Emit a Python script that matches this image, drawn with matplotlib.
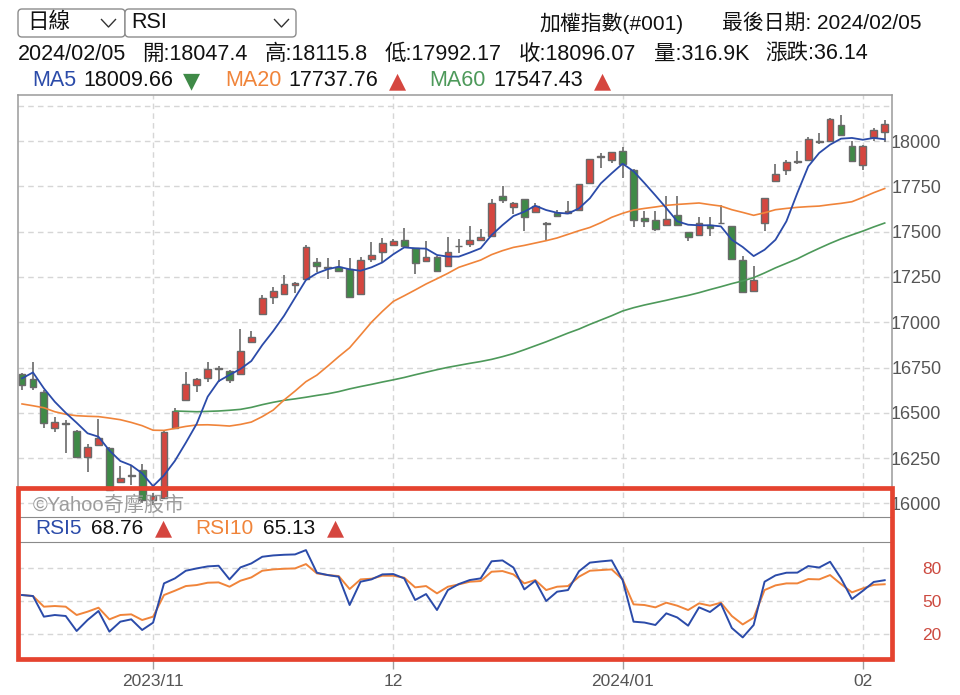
import matplotlib
matplotlib.use("Agg")
import numpy as np
import matplotlib.pyplot as plt
from matplotlib.patches import Rectangle, FancyBboxPatch
from matplotlib.lines import Line2D
from matplotlib.transforms import IdentityTransform

W, H = 960, 695
FONT = ["Liberation Sans", "Noto Sans CJK TC", "DejaVu Sans"]
plt.rcParams["font.family"] = FONT

# ---- data (TAIEX daily, 2023/10/16 .. 2024/02/05) ----
last_date = "2024/02/05"
volume_last = "316.9K"

open_ = [16712, 16686, 16613, 16414, 16437, 16400, 16258, 16322, 16304, 16117,
         16150, 16183, 16017, 16030, 16416, 16571, 16653, 16690, 16740, 16731,
         16712, 16889, 17045, 17137, 17156, 17205, 17238, 17334, 17298, 17306,
         17292, 17156, 17349, 17389, 17426, 17454, 17408, 17340, 17362, 17312,
         17418, 17431, 17454, 17477, 17696, 17638, 17678, 17610, 17540, 17601,
         17601, 17619, 17766, 17912, 17895, 17945, 17842, 17575, 17566, 17535,
         17593, 17498, 17479, 17538, 17545, 17529, 17345, 17174, 17547, 17777,
         17842, 17884, 17897, 17995, 18002, 18086, 17974, 17869, 18022, 18047.4]
high = [16722, 16782, 16624, 16479, 16460, 16405, 16326, 16465, 16310, 16207,
        16210, 16220, 16060, 16400, 16528, 16724, 16690, 16782, 16758, 16735,
        16962, 16951, 17150, 17196, 17260, 17224, 17426, 17353, 17353, 17343,
        17353, 17362, 17444, 17463, 17459, 17522, 17411, 17448, 17365, 17472,
        17457, 17531, 17512, 17678, 17752, 17662, 17682, 17660, 17555, 17619,
        17669, 17763, 17901, 17936, 17940, 17965, 17845, 17612, 17612, 17695,
        17695, 17500, 17579, 17579, 17645, 17532, 17363, 17308, 17688, 17873,
        17897, 17947, 18020, 18044, 18126, 18145, 18002, 17978, 18072, 18115.8]
low = [16625, 16626, 16414, 16392, 16280, 16250, 16172, 16318, 16070, 16115,
       16104, 16000, 15990, 16025, 16410, 16565, 16617, 16672, 16672, 16663,
       16708, 16885, 17040, 17100, 17152, 17159, 17235, 17279, 17238, 17275,
       17135, 17152, 17330, 17334, 17420, 17415, 17264, 17338, 17282, 17310,
       17380, 17413, 17452, 17475, 17656, 17597, 17505, 17608, 17454, 17582,
       17599, 17617, 17764, 17849, 17877, 17794, 17525, 17525, 17505, 17532,
       17529, 17450, 17476, 17477, 17543, 17347, 17160, 17170, 17505, 17773,
       17814, 17875, 17893, 17983, 17998, 18030, 17884, 17838, 18002, 17992.17]
close = [16655, 16644, 16442, 16451, 16442, 16254, 16313, 16359, 16074, 16140,
         16156, 16017, 16040, 16395, 16510, 16657, 16685, 16742, 16749, 16681,
         16843, 16916, 17132, 17174, 17211, 17214, 17417, 17312, 17303, 17284,
         17137, 17343, 17371, 17435, 17448, 17420, 17328, 17362, 17284, 17389,
         17422, 17454, 17472, 17656, 17674, 17660, 17582, 17643, 17545, 17586,
         17614, 17761, 17899, 17920, 17937, 17871, 17566, 17557, 17516, 17571,
         17535, 17470, 17547, 17520, 17549, 17349, 17165, 17231, 17685, 17818,
         17882, 17890, 18013, 18000, 18123, 18035, 17888, 17974, 18059.93, 18096.07]

ma5 = [16690, 16723, 16635, 16561, 16500, 16445, 16387, 16368, 16292, 16234,
       16210, 16166, 16095, 16155, 16235, 16335, 16440, 16589, 16675, 16709,
       16742, 16786, 16874, 16951, 17036, 17135, 17233, 17270, 17293, 17306,
       17292, 17284, 17303, 17330, 17375, 17413, 17408, 17406, 17371, 17362,
       17362, 17384, 17408, 17481, 17536, 17586, 17610, 17643, 17619, 17604,
       17600, 17628, 17684, 17766, 17822, 17875, 17833, 17768, 17700, 17630,
       17557, 17538, 17535, 17535, 17529, 17455, 17415, 17365, 17400, 17455,
       17557, 17713, 17860, 17934, 17980, 18013, 18017, 18007, 18017, 18009.66]
ma20 = [16549, 16539, 16528, 16506, 16492, 16484, 16481, 16479, 16471, 16462,
        16447, 16429, 16404, 16403, 16414, 16425, 16433, 16434, 16431, 16427,
        16436, 16449, 16479, 16515, 16571, 16620, 16672, 16708, 16758, 16810,
        16859, 16929, 17000, 17060, 17115, 17146, 17178, 17211, 17240, 17270,
        17303, 17323, 17343, 17373, 17395, 17413, 17424, 17437, 17450, 17465,
        17485, 17505, 17523, 17549, 17579, 17601, 17619, 17628, 17636, 17645,
        17650, 17654, 17658, 17649, 17641, 17621, 17606, 17590, 17604, 17621,
        17628, 17634, 17638, 17641, 17649, 17656, 17665, 17689, 17715, 17737.76]
# MA60 only starts once 60 sessions are available
ma60 = [np.nan] * 14 + [
        16510, 16508, 16506, 16508, 16510, 16514,
        16519, 16530, 16545, 16558, 16569, 16577, 16586, 16596, 16605, 16617,
        16632, 16645, 16657, 16670, 16682, 16695, 16710, 16724, 16738, 16751,
        16762, 16773, 16783, 16795, 16810, 16827, 16848, 16870, 16892, 16916,
        16940, 16962, 16988, 17012, 17036, 17062, 17080, 17095, 17108, 17121,
        17135, 17148, 17163, 17180, 17196, 17213, 17228, 17246, 17272, 17300,
        17325, 17350, 17380, 17408, 17435, 17460, 17482, 17503, 17526, 17547.43]

rsi5 = [55.4, 54.5, 35.9, 37.4, 36.5, 23.0, 32.9, 41.0, 22.4, 31.4,
        33.5, 23.9, 30.5, 65.9, 70.4, 77.3, 79.4, 81.2, 81.8, 69.5,
        80.3, 83.9, 89.9, 91.1, 91.7, 92.0, 95.9, 75.5, 73.4, 71.9,
        46.4, 67.4, 69.5, 74.0, 74.3, 70.4, 50.9, 56.3, 41.9, 59.9,
        65.3, 68.9, 70.4, 85.8, 86.6, 80.2, 60.5, 68.2, 50.0, 58.4,
        59.9, 76.8, 84.6, 85.7, 86.6, 68.9, 31.4, 30.6, 28.4, 38.9,
        35.2, 27.8, 44.3, 40.1, 47.6, 25.7, 17.2, 28.4, 67.4, 73.1,
        75.5, 75.6, 81.5, 80.2, 85.4, 70.4, 51.8, 59.2, 67.2, 68.76]
rsi10 = [55.4, 54.5, 44.9, 45.5, 44.9, 37.4, 40.4, 44.0, 33.5, 37.4,
         38.0, 32.9, 35.9, 55.4, 59.3, 63.5, 64.4, 66.5, 66.8, 62.9,
         68.3, 71.3, 77.3, 78.5, 79.1, 79.4, 83.3, 74.9, 73.4, 72.5,
         60.8, 69.5, 70.1, 72.8, 72.8, 71.0, 62.3, 63.5, 56.9, 62.9,
         65.0, 67.4, 68.0, 76.4, 77.0, 74.0, 65.9, 68.9, 59.9, 62.9,
         63.5, 71.9, 77.3, 77.9, 78.5, 69.5, 47.0, 46.4, 44.3, 48.5,
         45.8, 41.9, 47.9, 45.8, 48.5, 36.5, 28.9, 35.0, 59.9, 64.1,
         65.9, 65.9, 69.8, 69.5, 73.4, 65.3, 57.8, 61.4, 64.6, 65.13]

month_idx = [12, 34, 55, 77]
month_labels = ["2023/11", "12", "2024/01", "02"]
price_ticks = list(range(16000, 18001, 250))
rsi_ticks = [20, 50, 80]

# ---- colours ----
RED, GREEN, EDGE = "#d5463f", "#3f8a47", "#6a6a6a"
BLUE, ORANGE, MGREEN = "#2b4ba9", "#f0843a", "#4d995a"
GRID = "#d6d6d6"
FRAME = "#9a9a9a"


def fx(x):
    return x / W


def fy(y):
    return 1 - y / H


def txt(x, y, s, color="#111111", size=15.5, ha="left", **kw):
    fig.text(fx(x), fy(y), s, color=color, fontsize=size, ha=ha, va="center", **kw)


fig = plt.figure(figsize=(W / 100, H / 100), dpi=100)
fig.patch.set_facecolor("white")

ax = fig.add_axes([fx(18), fy(517), (892 - 18) / W, (517 - 95) / H])
rax = fig.add_axes([fx(18), fy(659), (892 - 18) / W, (659 - 542) / H], sharex=ax)

# ---- candles ----
idx = np.arange(len(close))
o, h, l, c = (np.array(a, dtype=float) for a in (open_, high, low, close))
up = c >= o
body_h = np.maximum(np.abs(c - o), 4)
body_lo = (o + c) / 2 - body_h / 2
ax.vlines(idx, l, h, color=EDGE, lw=1.2, zorder=2)
ax.bar(idx, body_h, bottom=body_lo, width=0.62, color=np.where(up, RED, GREEN),
       edgecolor=EDGE, linewidth=1.0, zorder=3)

ax.plot(idx, ma60, color=MGREEN, lw=1.2, zorder=4)
ax.plot(idx, ma20, color=ORANGE, lw=1.2, zorder=4)
ax.plot(idx, ma5, color=BLUE, lw=1.3, zorder=5)

ax.set_xlim(-0.37, 79.67)
ax.set_ylim(15925, 18254)
ax.set_yticks(price_ticks)
ax.set_xticks(month_idx)
ax.grid(True, color=GRID, ls=(0, (4, 3)), lw=1.0, zorder=0)
ax.axhline(18193, color=GRID, ls=(0, (4, 3)), lw=1.0, zorder=0)
ax.yaxis.tick_right()
ax.tick_params(axis="y", length=0, pad=35.5, labelsize=13, labelcolor="#555555")
ax.tick_params(axis="x", length=0, labelbottom=False)
plt.setp(ax.get_yticklabels(), ha="right")
for s in ("left", "top", "right"):
    ax.spines[s].set_color(FRAME)
    ax.spines[s].set_linewidth(1.1)
ax.spines["bottom"].set_color("#8a8a8a")
ax.spines["bottom"].set_linewidth(0.8)

# ---- RSI panel ----
rax.plot(idx, rsi10, color=ORANGE, lw=1.4, zorder=3)
rax.plot(idx, rsi5, color=BLUE, lw=1.4, zorder=4)
rax.set_ylim(-2.25, 103.2)
rax.set_yticks(rsi_ticks)
rax.set_xticks(month_idx)
rax.set_xticklabels(month_labels)
rax.grid(True, color=GRID, ls=(0, (4, 3)), lw=1.0, zorder=0)
rax.yaxis.tick_right()
rax.tick_params(axis="y", length=0, pad=35.5, labelsize=12.5, labelcolor="#cc4a40")
rax.tick_params(axis="x", length=7, width=1, color="#a0a0a0", pad=4,
                labelsize=12.5, labelcolor="#555555")
plt.setp(rax.get_yticklabels(), ha="right")
for s in rax.spines.values():
    s.set_color(FRAME)
    s.set_linewidth(1.0)
rax.spines["top"].set_color("#8a8a8a")
rax.spines["top"].set_linewidth(0.8)

# ---- header ----
for x0, x1 in [(18, 125), (125, 296)]:
    fig.add_artist(FancyBboxPatch((x0, H - 37), x1 - x0, 28,
                                  boxstyle="round,pad=0,rounding_size=4",
                                  transform=IdentityTransform(), fc="white",
                                  ec="#8c8c8c", lw=1))
for cx in (108.5, 281.5):
    fig.add_artist(Line2D([fx(cx - 7), fx(cx), fx(cx + 7)], [fy(19.5), fy(27), fy(19.5)],
                          transform=fig.transFigure, color="#333333", lw=1))
txt(27, 23, "日線", size=15.5)
txt(131, 23, "RSI", size=15.5)
txt(539, 23, "加權指數(#001)", size=15)
txt(922, 23, f"最後日期: {last_date}", size=15, ha="right")

chg = close[-1] - close[-2]
line2 = [last_date, f"開:{open_[-1]}", f"高:{high[-1]}", f"低:{low[-1]}",
         f"收:{close[-1]}", f"量:{volume_last}", f"漲跌:{chg:.2f}"]
line2_x = [18, 142, 264.5, 384.5, 519, 654, 765.5]
for x, s in zip(line2_x, line2):
    txt(x, 54, s, size=15.5)


def arrow(series):
    return ("▼", GREEN) if series[-1] < series[-2] else ("▲", RED)


legend_items = [("MA5", ma5, BLUE, 32, 83, 183),
                ("MA20", ma20, ORANGE, 225, 288, 389),
                ("MA60", ma60, MGREEN, 429, 493, 594)]
for name, ser, col, x0, x1, x2 in legend_items:
    txt(x0, 81, name, color=col, size=15.5)
    txt(x1, 81, f"{ser[-1]:.2f}", size=15.5)
    a, ac = arrow(ser)
    txt(x2, 81, a, color=ac, size=16, family="DejaVu Sans")

txt(33, 505, "©Yahoo奇摩股市", color="#9c9c9c", size=14.5)

rsi_items = [("RSI5", rsi5, BLUE, 35, 91.5, 155),
             ("RSI10", rsi10, ORANGE, 195, 263, 327)]
for name, ser, col, x0, x1, x2 in rsi_items:
    txt(x0, 528, name, color=col, size=15)
    txt(x1, 528, f"{ser[-1]:.2f}", size=15)
    a, ac = arrow(ser)
    txt(x2, 528, a, color=ac, size=16, family="DejaVu Sans")

# red highlight box around the RSI area
fig.add_artist(Rectangle((fx(18.3), fy(659)), (892 - 18.3) / W, (659 - 488.3) / H,
                         transform=fig.transFigure, fill=False, ec="#e5432f",
                         lw=3.4, zorder=10))

fig.savefig("out.png", dpi=100)
